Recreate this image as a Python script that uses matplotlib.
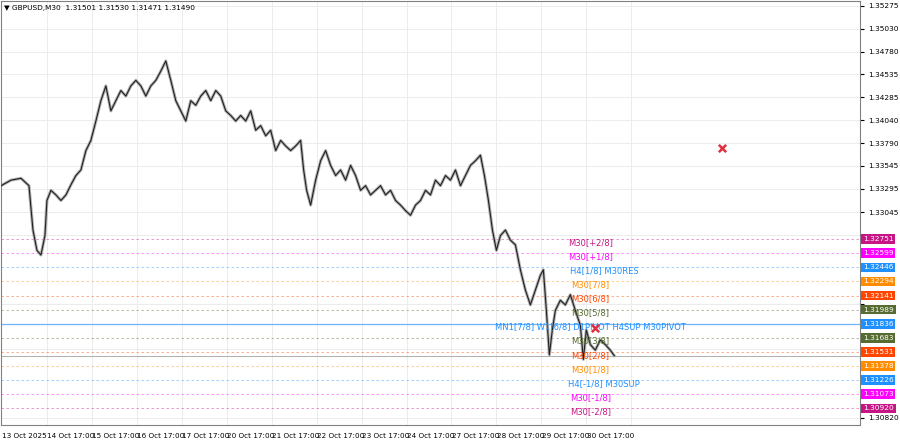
import matplotlib
matplotlib.use("Agg")
import matplotlib.pyplot as plt

# price path sampled along the chart (x in chart pixels, close price)
bar_x = [0, 10, 20, 28, 32, 36, 40, 44, 46, 50, 55, 60, 65, 70, 75, 80, 85, 90, 95, 100,
         105, 110, 115, 120, 125, 130, 135, 140, 145, 150, 155, 160, 165, 170, 175, 180, 185, 190, 195, 200,
         205, 210, 215, 220, 225, 230, 235, 240, 245, 250, 255, 260, 265, 270, 275, 280, 285, 290, 295, 300,
         303, 306, 310, 315, 320, 325, 330, 335, 340, 345, 350, 355, 360, 365, 370, 375, 380, 385, 390, 395,
         400, 405, 410, 415, 420, 425, 430, 435, 440, 445, 450, 455, 460, 465, 470, 475, 480, 484, 488, 492,
         496, 500, 505, 510, 515, 520, 525, 530, 535, 540, 543, 546, 549, 552, 555, 560, 565, 570, 575, 580,
         583, 586, 590, 595, 600, 605, 610, 614]
closes = [1.3333, 1.3339, 1.3341, 1.3333, 1.3285, 1.3263, 1.3258, 1.3279, 1.3317, 1.3328,
          1.3323, 1.3317, 1.3323, 1.3334, 1.3344, 1.3350, 1.3371, 1.3382, 1.3403, 1.3425,
          1.3441, 1.3414, 1.3425, 1.3436, 1.3430, 1.3441, 1.3447, 1.3441, 1.3430, 1.3441,
          1.3447, 1.3457, 1.3468, 1.3447, 1.3425, 1.3414, 1.3403, 1.3425, 1.3420, 1.3430,
          1.3436, 1.3425, 1.3436, 1.3430, 1.3414, 1.3409, 1.3403, 1.3409, 1.3403, 1.3414,
          1.3393, 1.3398, 1.3387, 1.3393, 1.3371, 1.3382, 1.3376, 1.3371, 1.3376, 1.3382,
          1.3350, 1.3328, 1.3312, 1.3339, 1.3360, 1.3371, 1.3355, 1.3344, 1.3350, 1.3339,
          1.3355, 1.3344, 1.3328, 1.3333, 1.3323, 1.3328, 1.3333, 1.3323, 1.3328, 1.3317,
          1.3312, 1.3306, 1.3301, 1.3312, 1.3317, 1.3328, 1.3323, 1.3339, 1.3333, 1.3344,
          1.3339, 1.3350, 1.3333, 1.3344, 1.3355, 1.3360, 1.3366, 1.3344, 1.3317, 1.3285,
          1.3263, 1.3279, 1.3285, 1.3274, 1.3269, 1.3242, 1.3220, 1.3204, 1.3220, 1.3236,
          1.3242, 1.3198, 1.3150, 1.3177, 1.3198, 1.3209, 1.3204, 1.3215, 1.3198, 1.3182,
          1.3145, 1.3177, 1.3161, 1.3155, 1.3166, 1.3161, 1.3155, 1.3149]

# Murrey-math style levels
level_prices = [1.32751, 1.32599, 1.32446, 1.32294, 1.32141, 1.31989, 1.31836,
                1.31683, 1.31531, 1.31378, 1.31226, 1.31073, 1.30920]
level_names = ["M30[+2/8]", "M30[+1/8]", "H4[1/8] M30RES", "M30[7/8]", "M30[6/8]", "M30[5/8]",
               "MN1[7/8] W1[6/8] D1PIVOT H4SUP M30PIVOT", "M30[3/8]", "M30[2/8]", "M30[1/8]",
               "H4[-1/8] M30SUP", "M30[-1/8]", "M30[-2/8]"]
level_colors = ["#C71585", "#FF00FF", "#1E90FF", "#FF8C00", "#FF4500", "#556B2F", "#1E90FF",
                "#556B2F", "#FF4500", "#FF8C00", "#1E90FF", "#FF00FF", "#C71585"]

axis_ticks = [1.35275, 1.35030, 1.34780, 1.34535, 1.34285, 1.34040, 1.33790, 1.33545,
              1.33295, 1.33045, 1.32800, 1.32055, 1.31560, 1.30820]
date_x = [2, 47, 92, 137, 182, 227, 272, 317, 362, 407, 452, 497, 542, 587]
date_labels = ["13 Oct 2025", "14 Oct 17:00", "15 Oct 17:00", "16 Oct 17:00", "17 Oct 17:00",
               "20 Oct 17:00", "21 Oct 17:00", "22 Oct 17:00", "23 Oct 17:00", "24 Oct 17:00",
               "27 Oct 17:00", "28 Oct 17:00", "29 Oct 17:00", "30 Oct 17:00"]
cross_x = [722, 595]
cross_y = [1.33735, 1.31790]

W, H = 900, 443
fig = plt.figure(figsize=(W / 100, H / 100), dpi=100)
ax = fig.add_axes([1 / W, 18 / H, 859 / W, 424 / H])
ax.set_xlim(0, 860)
ax.set_ylim(1.3074, 1.35329)

for x in date_x:
    ax.axvline(x + 44, color="#ececec", lw=0.7, zorder=0)
for t in axis_ticks:
    ax.axhline(t, color="#ececec", lw=0.7, zorder=0)

for p, n, c in zip(level_prices, level_names, level_colors):
    if n.startswith("MN1"):
        ax.axhline(p, color="#6fb4ff", lw=0.9, zorder=1)
        xc = 590
    else:
        ax.axhline(p, color=c, lw=0.6, ls=(0, (3, 3)), alpha=0.5, zorder=1)
        xc = 604 if n.startswith("H4") else 590
    ax.text(xc, p - 0.00035, n, color=c, fontsize=6.0, ha="center", va="center", zorder=4)
    ax.text(863, p, f"{p:.5f}", color="white", fontsize=5.3, ha="left", va="center",
            clip_on=False, bbox=dict(boxstyle="square,pad=0.25", fc=c, ec="none"), zorder=6)

ax.plot(bar_x, closes, color="#b0b0b0", lw=2.2, zorder=2)
ax.plot(bar_x, closes, color="#202020", lw=0.8, zorder=3)
ax.axhline(closes[-1], color="#909090", lw=0.5, zorder=1)
ax.scatter(cross_x, cross_y, marker="x", s=28, color="#e03040", linewidths=1.8, zorder=5)

# axis price labels that are not covered by a level box
shown = [t for t in axis_ticks if min(abs(t - p) for p in level_prices) > 0.0009]
ax.set_xticks([])
ax.yaxis.tick_right()
ax.set_yticks(axis_ticks)
ax.set_yticklabels([f"{t:.5f}" if t in shown else "" for t in axis_ticks], fontsize=5.3)
ax.tick_params(axis="y", length=3, pad=3, colors="black")
for s in ax.spines.values():
    s.set_color("#808080")
    s.set_linewidth(0.8)

for x, lab in zip(date_x, date_labels):
    fig.text(x / W, 4 / H, lab, fontsize=5.2, ha="left", va="bottom")

ax.text(0.004, 0.99, "▼ GBPUSD,M30  1.31501 1.31530 1.31471 1.31490", transform=ax.transAxes,
        fontsize=5.3, ha="left", va="top")

fig.savefig("out.png", dpi=100)
